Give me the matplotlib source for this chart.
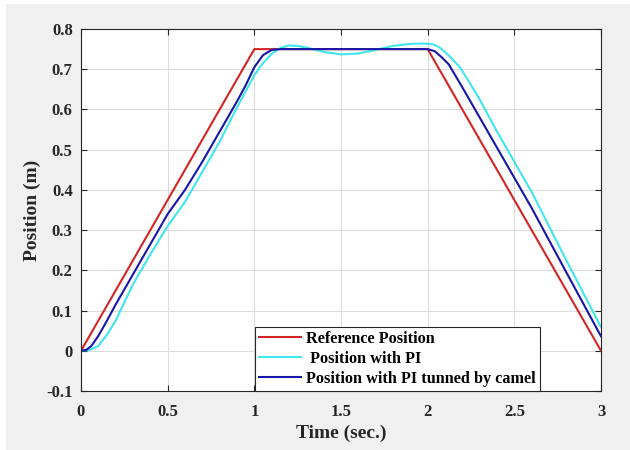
import matplotlib
matplotlib.use('Agg')
import matplotlib.pyplot as plt
from matplotlib.patches import Rectangle

# reference trajectory
t_ref = [0, 1, 2, 3]
pos_ref = [0, 0.75, 0.75, 0]

# PI tuned by camel (blue)
t_camel = [0, 0.03, 0.06, 0.1, 0.15, 0.2, 0.3, 0.4, 0.5, 0.6, 0.7, 0.8, 0.9, 0.95,
           1.0, 1.05, 1.1, 1.15, 1.5, 2.0, 2.04, 2.08, 2.12, 2.2, 2.4, 2.6, 2.8, 3.0]
pos_camel = [0, 0.002, 0.012, 0.037, 0.075, 0.115, 0.19, 0.265, 0.34, 0.40, 0.47, 0.545, 0.62, 0.66,
             0.705, 0.735, 0.748, 0.75, 0.75, 0.75, 0.745, 0.73, 0.713, 0.655, 0.505, 0.355, 0.195, 0.036]

# plain PI (cyan)
t_pi = [0, 0.05, 0.1, 0.15, 0.2, 0.25, 0.3, 0.4, 0.5, 0.6, 0.7, 0.8, 0.9, 1.0, 1.05, 1.1, 1.15,
        1.2, 1.25, 1.3, 1.4, 1.5, 1.6, 1.7, 1.8, 1.9, 1.97, 2.03, 2.07, 2.12, 2.19, 2.3, 2.4,
        2.5, 2.55, 2.6, 2.7, 2.8, 2.9, 3.0]
pos_pi = [0, 0.002, 0.012, 0.04, 0.075, 0.12, 0.165, 0.24, 0.31, 0.37, 0.445, 0.52, 0.605, 0.685,
          0.715, 0.738, 0.753, 0.759, 0.758, 0.754, 0.743, 0.737, 0.739, 0.748, 0.758, 0.763, 0.764,
          0.762, 0.754, 0.735, 0.703, 0.625, 0.545, 0.47, 0.432, 0.395, 0.31, 0.225, 0.142, 0.059]

labels = ['Reference Position', ' Position with PI', 'Position with PI tunned by camel']

plt.rcParams['font.family'] = ['Liberation Serif', 'DejaVu Serif']
plt.rcParams['font.weight'] = 'bold'

fig = plt.figure(figsize=(6.3, 4.5), dpi=100)
fig.patch.set_facecolor('white')
fig.add_artist(Rectangle((6 / 630, 0), 1, 1 - 4 / 450, transform=fig.transFigure,
                         facecolor='#f0f0f0', edgecolor='none', zorder=-10))
ax = fig.add_axes([81 / 630, 1 - 391 / 450, 520 / 630, 362 / 450])

ax.plot(t_ref, pos_ref, color='#d42424', lw=1.5, label=labels[0])
ax.plot(t_pi, pos_pi, color='#40e6ee', lw=1.5, label=labels[1])
ax.plot(t_camel, pos_camel, color='#1616a8', lw=1.5, label=labels[2])

ax.set_xlim(0, 3)
ax.set_ylim(-0.1, 0.8)
ax.set_xticks([0, 0.5, 1, 1.5, 2, 2.5, 3])
ax.set_xticklabels(['0', '0.5', '1', '1.5', '2', '2.5', '3'])
ax.set_yticks([-0.1, 0, 0.1, 0.2, 0.3, 0.4, 0.5, 0.6, 0.7, 0.8])
ax.set_yticklabels(['-0.1', '0', '0.1', '0.2', '0.3', '0.4', '0.5', '0.6', '0.7', '0.8'])
ax.grid(True, color='#dcdcdc', lw=0.8)
ax.tick_params(direction='in', top=True, right=True, labelsize=12, colors='#262626', length=4)
ax.tick_params(axis='x', pad=9)
ax.tick_params(axis='y', pad=6)
for s in ax.spines.values():
    s.set_color('#262626')
    s.set_linewidth(0.8)

ax.set_xlabel('Time (sec.)', fontsize=14, fontweight='bold', color='#262626', labelpad=4)
ax.set_ylabel('Position (m)', fontsize=14, fontweight='bold', color='#262626', labelpad=4)

leg = ax.legend(loc='lower left', bbox_to_anchor=(174 / 520, 0, 285 / 520, 0.2),
                mode='expand', fontsize=11.7, fancybox=False, framealpha=1, edgecolor='#262626',
                handlelength=2.6, borderaxespad=0, borderpad=0.25, labelspacing=0.25,
                handletextpad=0.3)
leg.get_frame().set_linewidth(0.8)

fig.savefig('out.png', dpi=100, facecolor=fig.get_facecolor())
